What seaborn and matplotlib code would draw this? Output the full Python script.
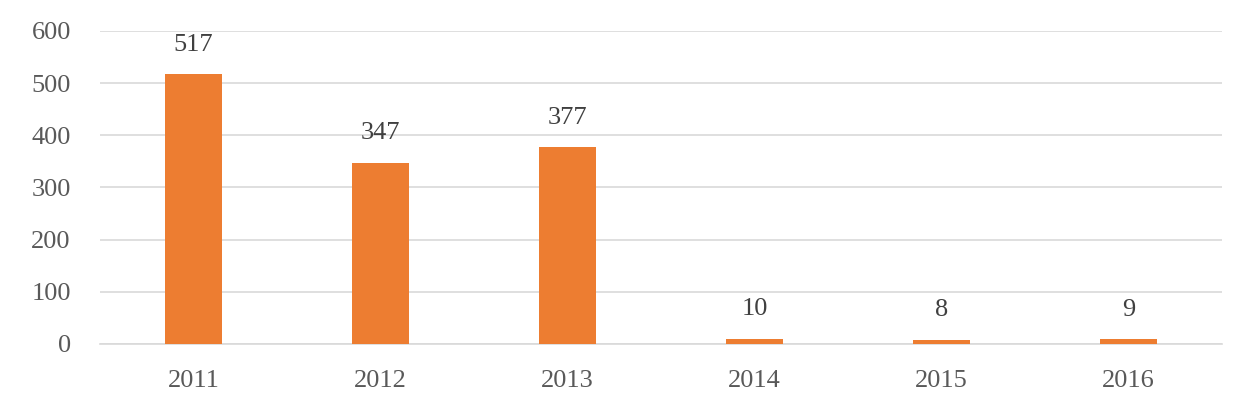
import matplotlib
matplotlib.use("Agg")
import matplotlib.pyplot as plt
import seaborn as sns
import pandas as pd

years = ["2011", "2012", "2013", "2014", "2015", "2016"]
values = [517, 347, 377, 10, 8, 9]
yticks = [0, 100, 200, 300, 400, 500, 600]

sns.set_theme(style="white")
plt.rcParams['font.family'] = ['Liberation Serif', 'DejaVu Serif']

df = pd.DataFrame({"year": years, "value": values})

fig = plt.figure(figsize=(12.56, 4.12), dpi=100)
ax = fig.add_axes([100/1256, 68/412, 1122/1256, 313/412])

sns.barplot(data=df, x="year", y="value", color="#ED7D31", width=0.31,
            saturation=1, ax=ax, zorder=3, linewidth=0)

ax.set_ylim(0, 600)
ax.set_yticks(yticks)
ax.set_xlim(-0.5, len(years) - 0.5)
ax.grid(axis="y", color="#D9D9D9", linewidth=1.2, zorder=0)
for s in ["top", "right", "left"]:
    ax.spines[s].set_visible(False)
ax.spines["bottom"].set_color("#D9D9D9")
ax.spines["bottom"].set_linewidth(1.2)
ax.tick_params(axis="both", length=0, labelsize=19, colors="#595959")
ax.tick_params(axis="x", pad=19)
ax.tick_params(axis="y", pad=21)
ax.set_xlabel("")
ax.set_ylabel("")

for i, v in enumerate(values):
    ax.text(i, v + 36, str(v), ha="center", va="bottom", fontsize=19, color="#404040")

fig.savefig("out.png", dpi=100)
